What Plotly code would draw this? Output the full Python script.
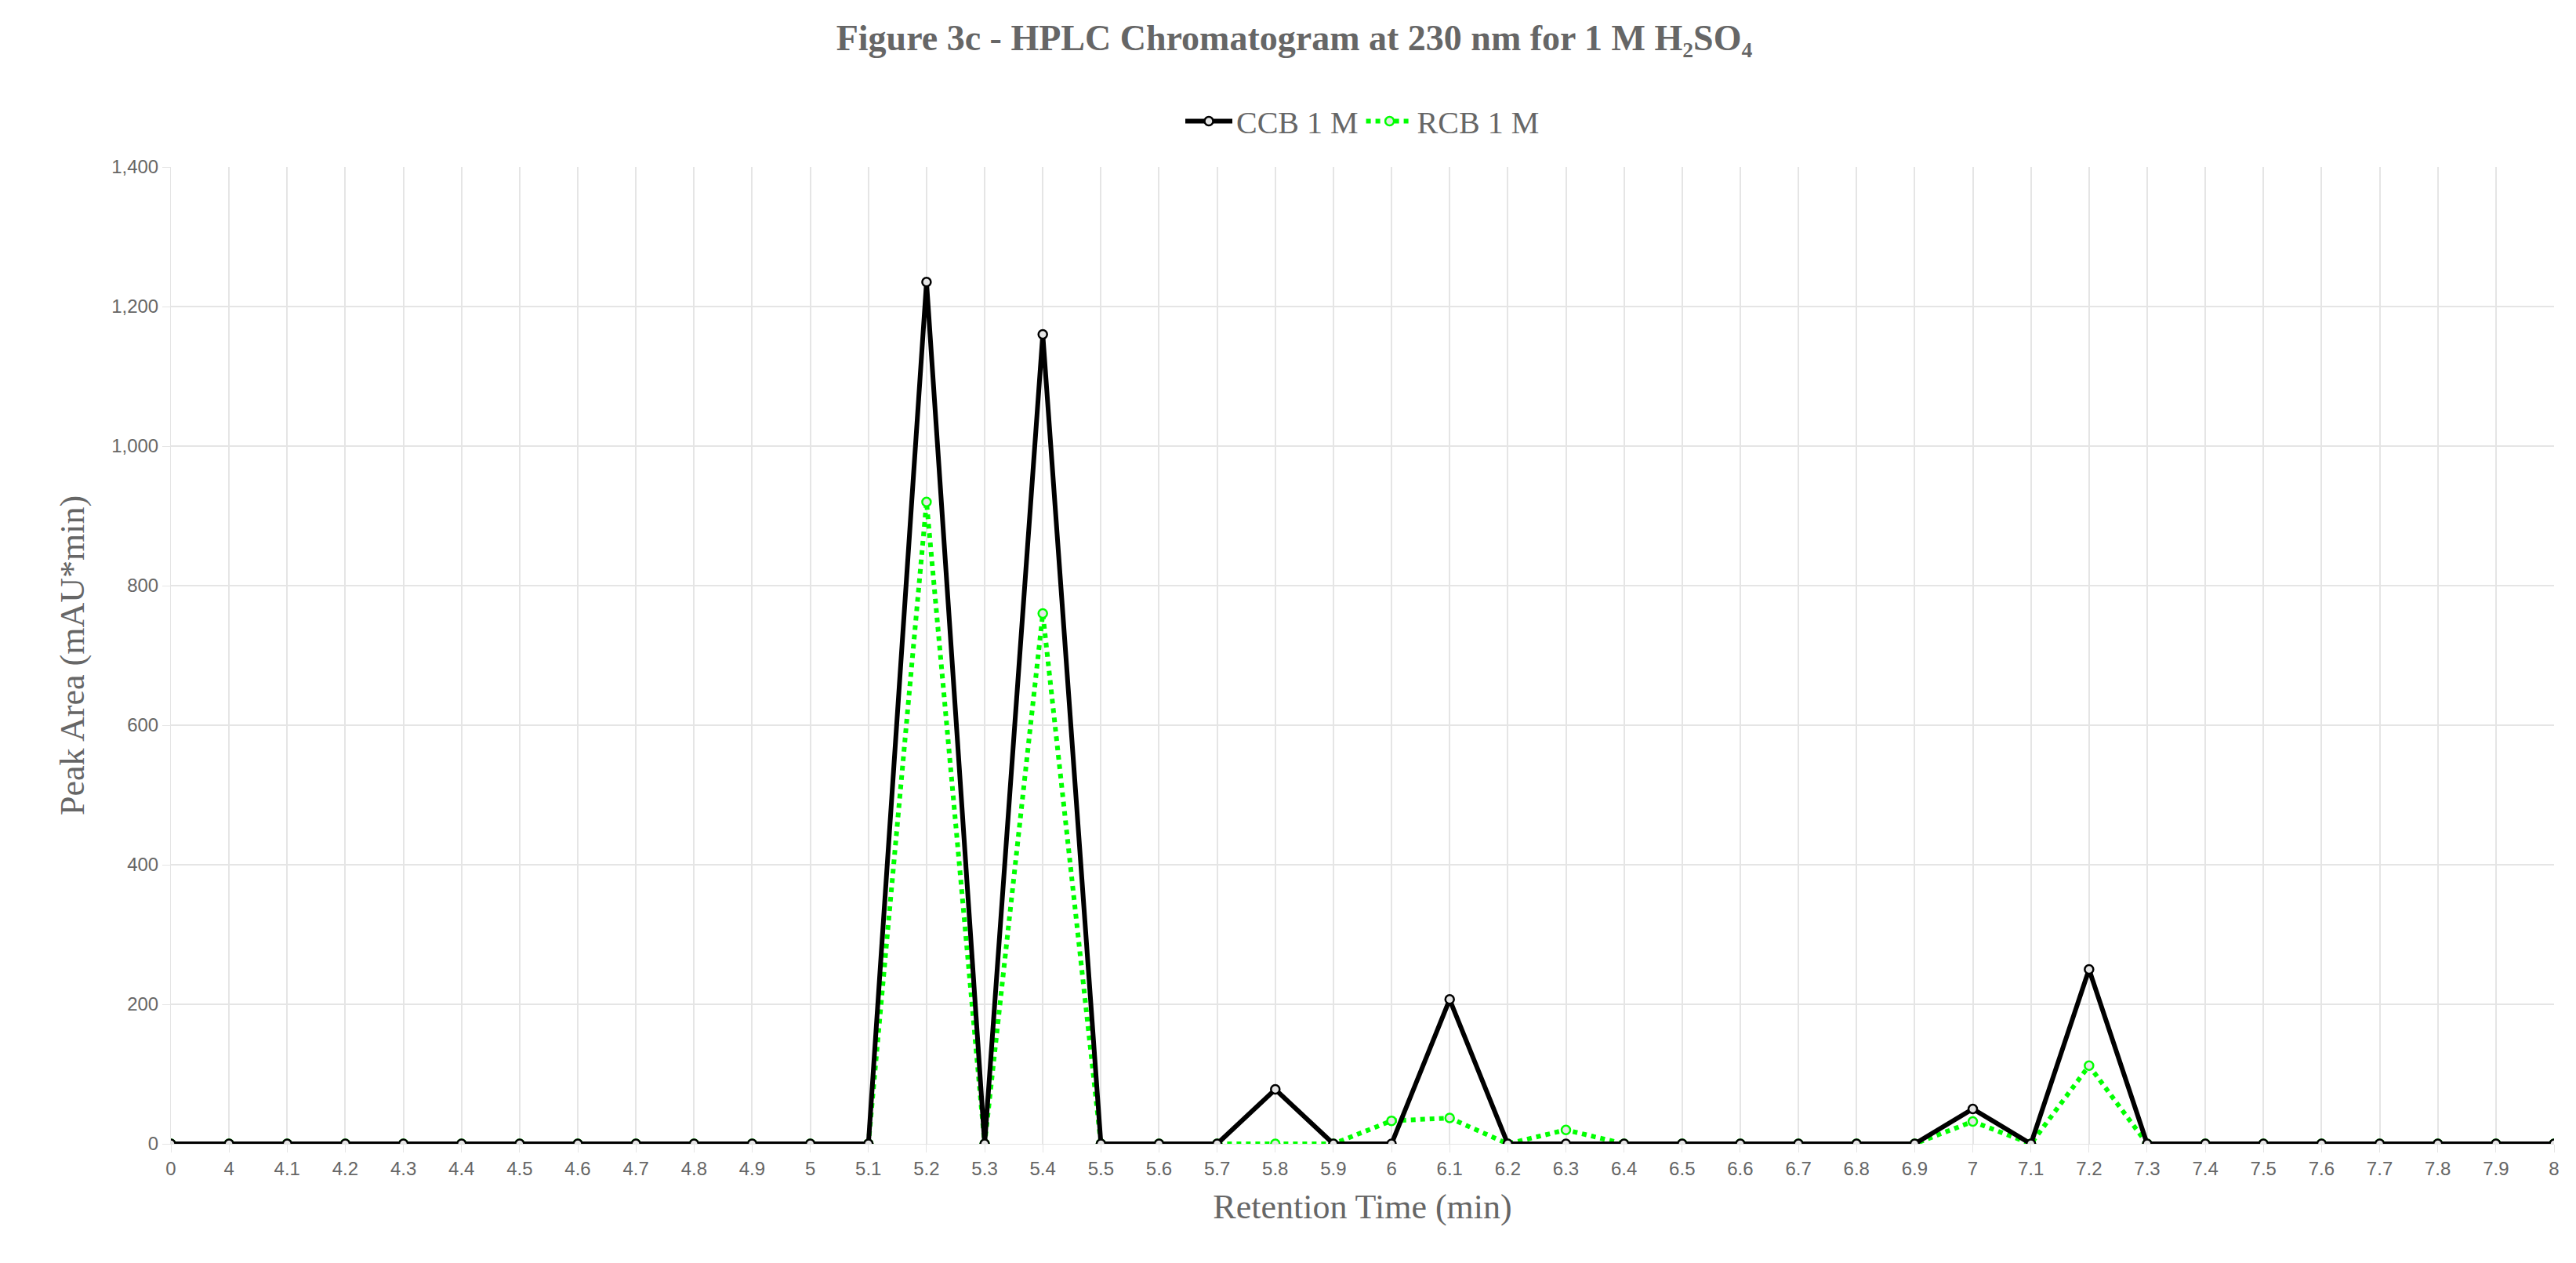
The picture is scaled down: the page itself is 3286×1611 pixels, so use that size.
import plotly.graph_objects as go

categories = ["0"] + ["{:g}".format(round(4 + i * 0.1, 1)) for i in range(41)]
ccb_peaks = {"5.2": 1235, "5.4": 1160, "5.8": 78, "6.1": 207, "7": 50, "7.2": 250}
rcb_peaks = {"5.2": 920, "5.4": 760, "6": 33, "6.1": 37, "6.3": 20, "7": 32, "7.2": 112}
ccb = [ccb_peaks.get(c, 0) for c in categories]
rcb = [rcb_peaks.get(c, 0) for c in categories]

fig = go.Figure()
fig.add_trace(go.Scatter(x=categories, y=rcb, name="RCB 1 M", mode="lines+markers",
                         line=dict(color="#00ff00", width=6, dash="dot"),
                         marker=dict(size=11, color="rgba(230,230,230,1)", line=dict(color="#00ff00", width=2.5))))
fig.add_trace(go.Scatter(x=categories, y=ccb, name="CCB 1 M", mode="lines+markers",
                         line=dict(color="black", width=6),
                         marker=dict(size=11, color="rgba(230,230,230,1)", line=dict(color="black", width=2.5))))

serif = "Palatino Linotype, Liberation Serif, serif"
fig.update_layout(
    width=3286, height=1611, plot_bgcolor="white", paper_bgcolor="white",
    margin=dict(l=210, r=36, t=205, b=160),
    title=dict(text="<b>Figure 3c - HPLC Chromatogram at 230 nm for 1 M H₂SO₄</b>", x=0.5, y=0.975, xanchor="center",
               yanchor="middle", font=dict(family=serif, size=46, color="#666")),
    legend=dict(orientation="h", x=0.5, xanchor="center", y=1.047, yanchor="middle", traceorder="reversed",
                font=dict(family=serif, size=40, color="#666"), itemwidth=60),
    xaxis=dict(title=dict(text="Retention Time (min)", font=dict(family=serif, size=44, color="#666"), standoff=20),
               type="category", range=[0, 41], showgrid=True, gridcolor="#e5e5e5", gridwidth=2,
               tickfont=dict(family="Liberation Sans, Arial", size=24, color="#666"), tickangle=0,
               linecolor="#e5e5e5", ticks="outside", ticklen=10, tickcolor="#e5e5e5"),
    yaxis=dict(title=dict(text="Peak Area (mAU*min)", font=dict(family=serif, size=44, color="#666"), standoff=20),
               range=[0, 1400], dtick=200, tickformat=",", showgrid=True, gridcolor="#e5e5e5", gridwidth=2,
               tickfont=dict(family="Liberation Sans, Arial", size=24, color="#666"),
               zeroline=False, linecolor="#e5e5e5", ticks="outside", ticklen=10, tickcolor="#e5e5e5"),
)
fig.write_html("out.html")
